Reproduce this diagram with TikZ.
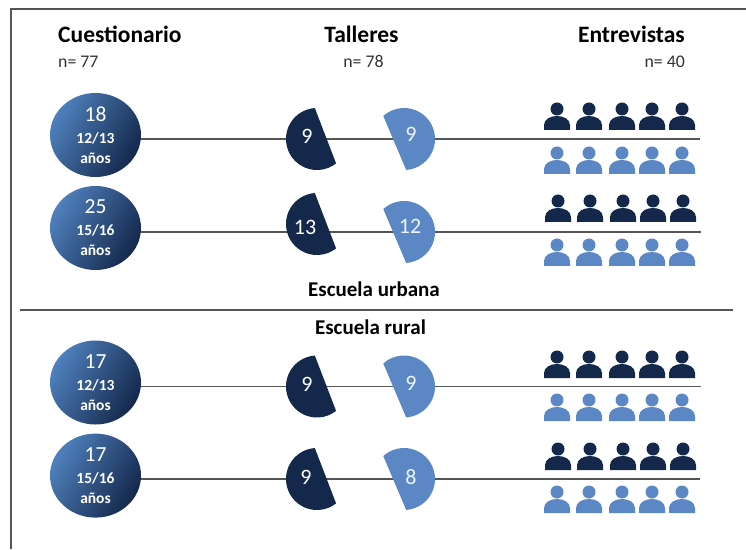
\documentclass[tikz,border=0pt]{standalone}
\usepackage{fontspec}
\setmainfont{Carlito}
\usetikzlibrary{shapes.geometric}
\definecolor{navyblue}{HTML}{14284B}
\definecolor{softblue}{HTML}{5B88C4}
\definecolor{ballblue}{HTML}{4F80BD}
\definecolor{rulegray}{HTML}{555555}
\definecolor{smallgray}{HTML}{333333}
\newcommand{\agetext}[2]{{\fontsize{21.5}{22}\selectfont #1}\\[10pt]{\fontsize{15.5}{21}\selectfont\bfseries #2}\\[8pt]{\fontsize{15.5}{21}\selectfont\bfseries años}}
\tikzset{
darkwedge/.pic={\fill[navyblue] (94:31pt) arc[start angle=94, end angle=308, radius=31pt] -- cycle;},
lightwedge/.pic={\fill[softblue] (-86:31pt) arc[start angle=-86, end angle=132, radius=31pt] -- cycle;},
darkperson/.pic={
    \fill[navyblue] (0,21pt) circle[radius=6.5pt];
    \fill[navyblue] (-13pt,0pt) -- (-13pt,5pt) .. controls (-13pt,11pt) and (-6pt,14pt) .. (0pt,14pt) .. controls (6pt,14pt) and (13pt,11pt) .. (13pt,5pt) -- (13pt,0pt) -- cycle;},
lightperson/.pic={
    \fill[softblue] (0,21pt) circle[radius=6.5pt];
    \fill[softblue] (-13pt,0pt) -- (-13pt,5pt) .. controls (-13pt,11pt) and (-6pt,14pt) .. (0pt,14pt) .. controls (6pt,14pt) and (13pt,11pt) .. (13pt,5pt) -- (13pt,0pt) -- cycle;},
}
\begin{document}
\begin{tikzpicture}[
x=1pt, y=1pt,
ball/.style={ellipse, minimum width=91pt, minimum height=84pt, inner sep=0pt, align=center, text=white, top color=ballblue, bottom color=navyblue, shading angle=60},
wedgetext/.style={text=white, font=\fontsize{22}{24}\selectfont},
softwedgetext/.style={text=white!90!softblue, font=\fontsize{22}{24}\selectfont},
heading/.style={font=\fontsize{23.5}{26}\selectfont\bfseries, text=black, inner sep=0pt},
count/.style={font=\fontsize{17.8}{20}\selectfont, text=smallgray, inner sep=0pt},
school/.style={font=\fontsize{21}{24}\selectfont\bfseries, text=black, inner sep=0pt},
rowline/.style={draw=rulegray, line width=1.2pt},
]
\useasboundingbox (0,0) rectangle (746,549);
\coordinate (frameTL) at (11,540);
\coordinate (frameTR) at (746,540);
\coordinate (frameBL) at (11,0);
\draw[draw=rulegray, line width=1.2pt] (frameTR) -- (frameTL) -- (frameBL);
\node[heading, anchor=base west] (cuestionario) at (58,506) {Cuestionario};
\node[heading, anchor=base] (talleres) at (361.5,506) {Talleres};
\node[heading, anchor=base east] (entrevistas) at (685,506) {Entrevistas};
\node[count, anchor=base west] (ncuest) at (58,481) {n= 77};
\node[count, anchor=base] (ntall) at (363.5,481) {n= 78};
\node[count, anchor=base east] (nentr) at (685,481) {n= 40};
\node[ball] (ball1) at (95.5,414) {\agetext{18}{12/13}};
\node[ball] (ball2) at (95.5,321) {\agetext{25}{15/16}};
\node[ball] (ball3) at (95.5,166.5) {\agetext{17}{12/13}};
\node[ball] (ball4) at (95.5,73.4) {\agetext{17}{15/16}};
\coordinate (end1) at (700,410);
\coordinate (end2) at (701,317);
\coordinate (end3) at (701,162.5);
\coordinate (end4) at (700,70);
\draw[rowline] (ball1.east |- end1) -- (end1);
\draw[rowline] (ball2.east |- end2) -- (end2);
\draw[rowline] (ball3.east |- end3) -- (end3);
\draw[rowline] (ball4.east |- end4) -- (end4);
\pic at (317,410) {darkwedge};
\pic at (317,325) {darkwedge};
\pic at (317,162.5) {darkwedge};
\pic at (317,70) {darkwedge};
\pic at (404,410) {lightwedge};
\pic at (404,317) {lightwedge};
\pic at (404,162.5) {lightwedge};
\pic at (404,70) {lightwedge};
\node[wedgetext] (dark1) at (307,413) {9};
\node[wedgetext] (dark2) at (305,322) {13};
\node[wedgetext] (dark3) at (307,165) {9};
\node[wedgetext] (dark4) at (306,72) {9};
\node[softwedgetext] (light1) at (411,415) {9};
\node[softwedgetext] (light2) at (410,323) {12};
\node[softwedgetext] (light3) at (411,166) {9};
\node[softwedgetext] (light4) at (411,72) {8};
\foreach \px in {557,589,622,652,682}{
    \pic at (\px,419) {darkperson};
    \pic at (\px+1,327) {darkperson};
    \pic at (\px,171) {darkperson};
    \pic at (\px+1,79) {darkperson};
    \pic at (\px,375) {lightperson};
    \pic at (\px,283) {lightperson};
    \pic at (\px,128) {lightperson};
    \pic at (\px,36) {lightperson};
}
\node[school, anchor=base] (urbana) at (374,252) {Escuela urbana};
\node[school, anchor=base] (rural) at (370.5,214) {Escuela rural};
\coordinate (sepL) at (20,239);
\coordinate (sepR) at (733,239);
\draw[rowline] (sepL) -- (sepR);
\end{tikzpicture}
\end{document}
